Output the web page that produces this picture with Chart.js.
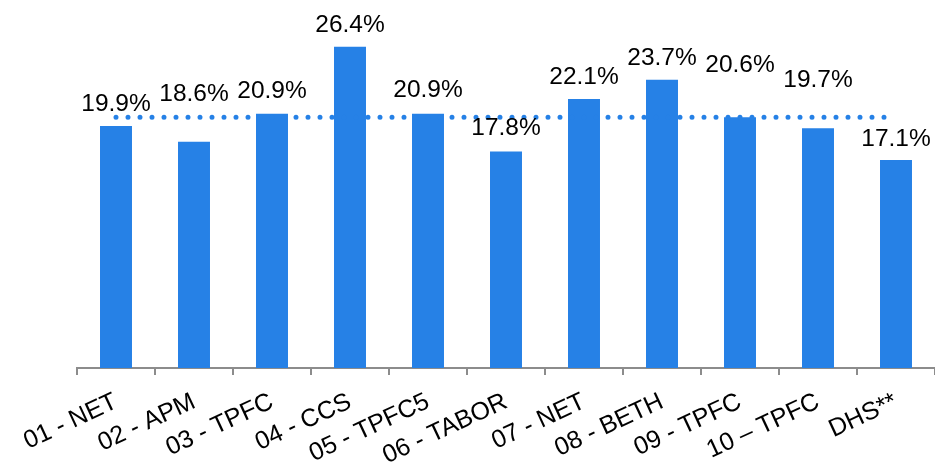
<!DOCTYPE html>
<html><head><meta charset="utf-8">
<script src="https://cdn.jsdelivr.net/npm/chart.js@4.4.1/dist/chart.umd.min.js"></script>
<style>html,body{margin:0;padding:0;background:#fff}#wrap{width:935px;height:465px;position:relative}</style>
</head><body><div id="wrap"><canvas id="c" width="935" height="465"></canvas></div>
<script>
const categories = ["01 - NET","02 - APM","03 - TPFC","04 - CCS","05 - TPFC5","06 - TABOR","07 - NET","08 - BETH","09 - TPFC","10 \u2013 TPFC","DHS**"];
const rates = [19.9,18.6,20.9,26.4,20.9,17.8,22.1,23.7,20.6,19.7,17.1];
const averageRate = 20.6;
const averageLine = categories.map(() => averageRate);

const blue = '#2681E6';
const FONT = '"Liberation Sans", Arial, sans-serif';

// extra lift (px) for value labels that would otherwise collide with the dotted line
const labelLift = [15, 41, 16, 15, 17, 16, 15, 15, 45, 41, 14];

const valueLabels = {
  id: 'valueLabels',
  afterDatasetsDraw(chart) {
    const ctx = chart.ctx;
    const meta = chart.getDatasetMeta(0);
    ctx.save();
    ctx.fillStyle = '#000';
    ctx.font = '24.5px ' + FONT;
    ctx.textAlign = 'center';
    ctx.textBaseline = 'alphabetic';
    meta.data.forEach((bar, i) => {
      ctx.fillText(rates[i].toFixed(1) + '%', bar.x, bar.y - labelLift[i]);
    });
    ctx.restore();
  }
};

new Chart(document.getElementById('c'), {
  type: 'bar',
  data: {
    labels: categories,
    datasets: [
      { type: 'bar', data: rates, backgroundColor: blue, borderWidth: 0, barPercentage: 0.41, categoryPercentage: 1.0, order: 2 },
      { type: 'line', data: averageLine, borderColor: blue, borderWidth: 5, borderDash: [0, 12], borderCapStyle: 'round', pointRadius: 0, fill: false, order: 1 }
    ]
  },
  options: {
    responsive: false,
    animation: false,
    devicePixelRatio: 1,
    layout: { padding: { left: 77, right: 0, top: 3, bottom: 0 } },
    plugins: { legend: { display: false }, tooltip: { enabled: false } },
    scales: {
      y: { display: false, min: 0, max: 30 },
      x: {
        offset: true,
        grid: { display: true, drawOnChartArea: false, drawTicks: true, tickLength: 7, color: '#8c8c8c', lineWidth: 2, offset: true },
        border: { display: true, color: '#8c8c8c', width: 2 },
        ticks: { color: '#000', font: { family: FONT, size: 25 }, minRotation: 25, maxRotation: 25, autoSkip: false, padding: 12 },
        afterFit(scale) { scale.height = 97; scale.paddingLeft = 0; scale.paddingRight = 0; }
      }
    }
  },
  plugins: [valueLabels]
});
</script>
</body></html>
